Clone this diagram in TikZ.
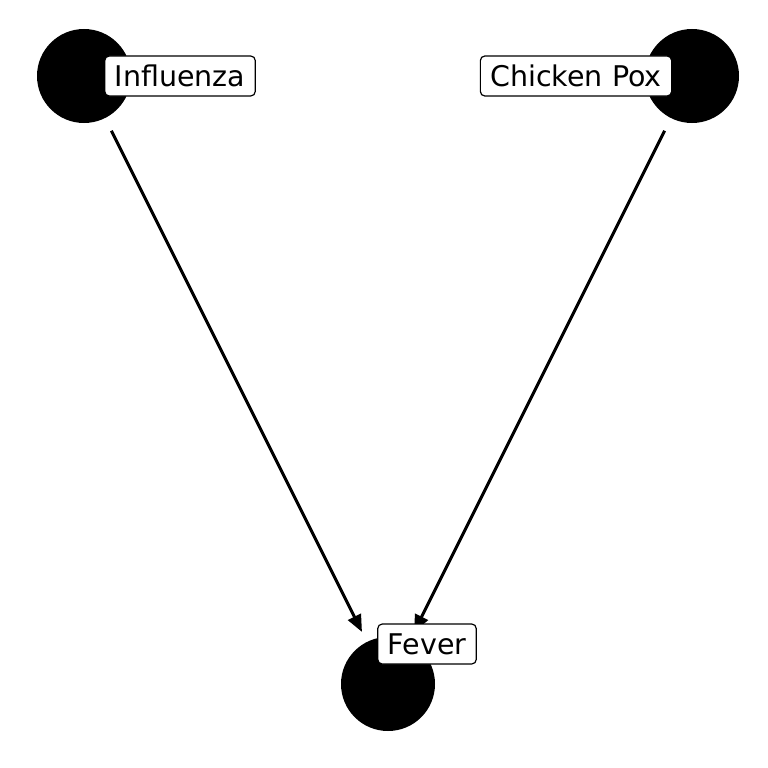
\documentclass[tikz,border=0pt]{standalone}
\usepackage{fontspec}
\setmainfont{DejaVu Sans}
\usetikzlibrary{positioning, arrows.meta, calc}
\tikzset{
  disease/.style={circle, fill=black, minimum size=94pt, inner sep=0pt},
  tag/.style={rectangle, rounded corners=4.5pt, draw=black, line width=1.2pt, fill=white, minimum height=40pt, inner xsep=10pt, inner ysep=0pt, font=\fontsize{28.5}{34}\selectfont},
  arrow/.style={line width=3pt, -{Triangle[length=17pt, width=14pt]}, shorten <=14pt, shorten >=11pt}
}
\begin{document}
\begin{tikzpicture}[x=1pt, y=-1pt]
    \useasboundingbox (0,0) rectangle (768,768);

    % --- Nodos ---
    \node (flu) [disease] at (84,76) {};
    \node (pox) [disease] at (692,76) {};
    \node (fever) [disease] at (388,684) {};

    % --- Conexiones ---
    \draw [arrow] (flu) -- (fever);
    \draw [arrow] (pox) -- (fever);

    % --- Etiquetas ---
    \node (flu_tag) [tag] at (180,76) {Influenza};
    \node (pox_tag) [tag] at (576,76) {Chicken Pox};
    \node (fever_tag) [tag] at (427,644) {Fever};
\end{tikzpicture}
\end{document}
